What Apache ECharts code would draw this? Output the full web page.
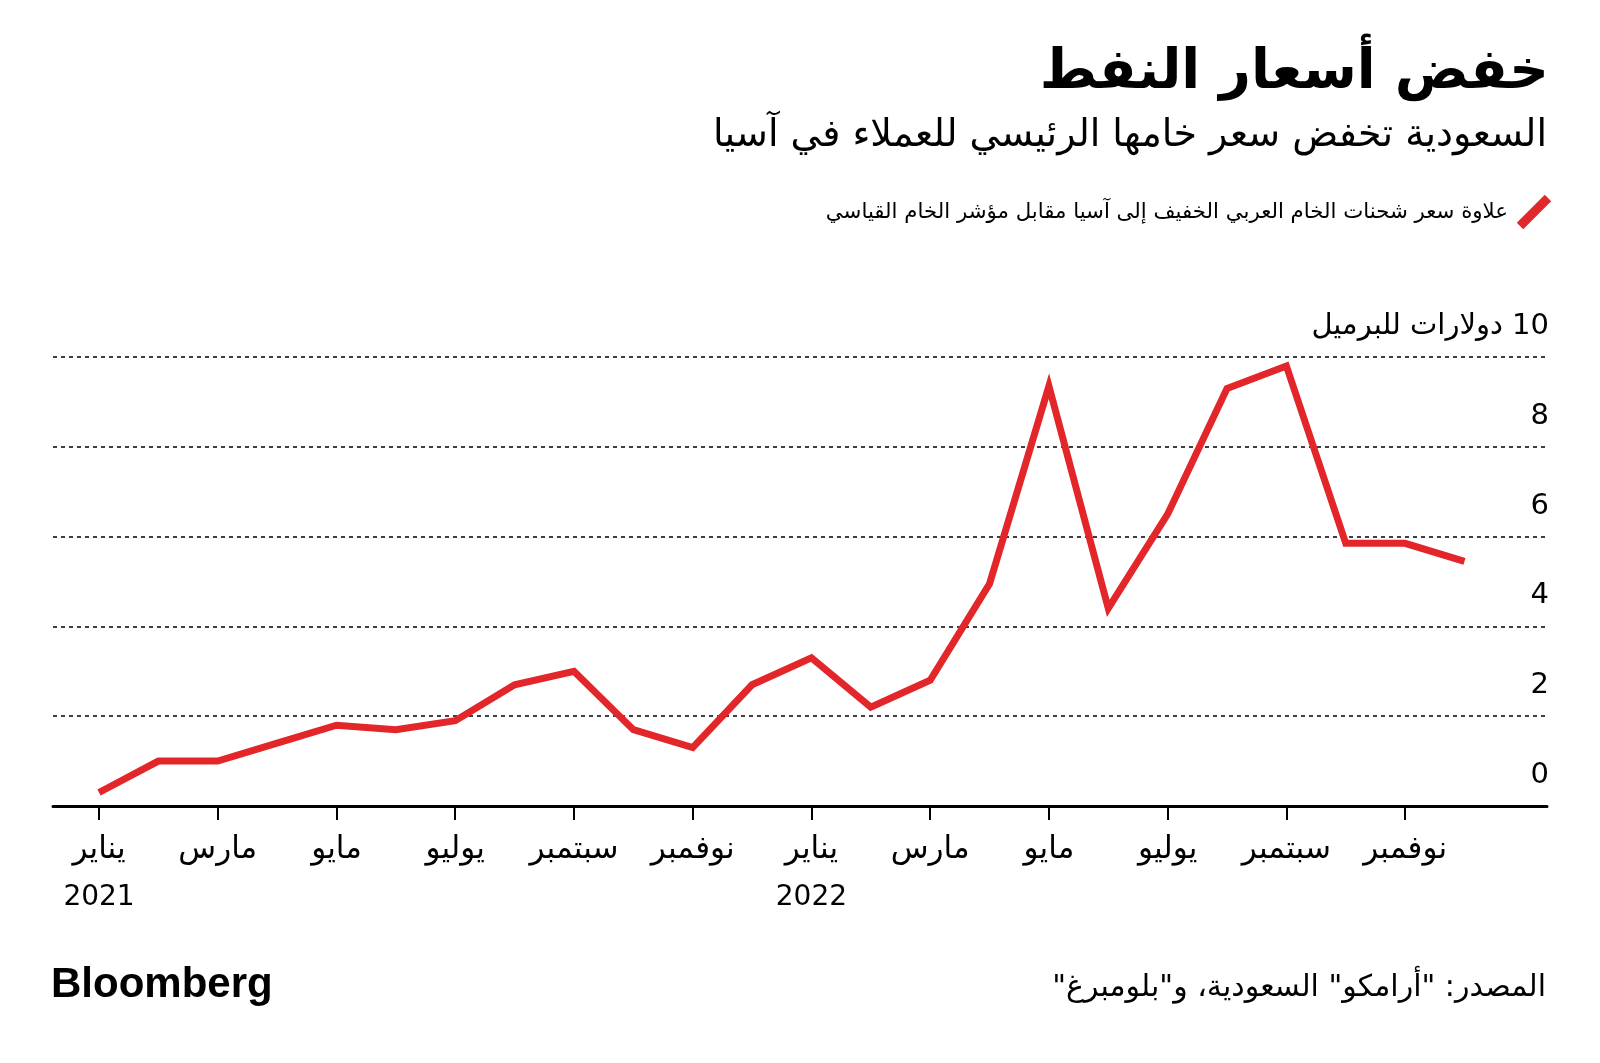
<!DOCTYPE html>
<html>
<head>
<meta charset="utf-8">
<script src="https://cdn.jsdelivr.net/npm/echarts@6/dist/echarts.min.js"></script>
<style>
html,body{margin:0;padding:0;background:#fff;}
#chart{width:1600px;height:1063px;}
</style>
</head>
<body>
<div id="chart" dir="rtl"></div>
<script>
const titleText = 'خفض أسعار النفط';
const subtitleText = 'السعودية تخفض سعر خامها الرئيسي للعملاء في آسيا';
const legendText = 'علاوة سعر شحنات الخام العربي الخفيف إلى آسيا مقابل مؤشر الخام القياسي';
const unitLabel = '10 دولارات للبرميل';
const sourceText = 'المصدر: "أرامكو" السعودية، و"بلومبرغ"';
const brandText = 'Bloomberg';

// months Jan 2021 .. Dec 2022 (index 0..23)
const monthNames = ['يناير','فبراير','مارس','أبريل','مايو','يونيو','يوليو','أغسطس','سبتمبر','أكتوبر','نوفمبر','ديسمبر'];
const years = ['2021','2022'];
const premium = [0.3, 1.0, 1.0, 1.4, 1.8, 1.7, 1.9, 2.7, 3.0, 1.7, 1.3, 2.7,
                 3.3, 2.2, 2.8, 4.95, 9.35, 4.4, 6.5, 9.3, 9.8, 5.85, 5.85, 5.45];
const tickIdx = [0, 2, 4, 6, 8, 10, 12, 14, 16, 18, 20, 22];

const FONT = '"DejaVu Sans", "Noto Sans", sans-serif';
const RED = '#e3262a';

const chart = echarts.init(document.getElementById('chart'), null, {renderer: 'canvas'});
chart.setOption({
  backgroundColor: '#ffffff',
  animation: false,
  grid: {left: 53, right: 53, top: 357, bottom: 257},
  xAxis: {
    type: 'value',
    min: -0.775,
    max: 24.39,
    axisLine: {show: true, onZero: false, lineStyle: {color: '#000', width: 3}},
    axisTick: {show: true, customValues: tickIdx, length: 14, lineStyle: {color: '#000', width: 2}},
    splitLine: {show: false},
    axisLabel: {
      customValues: tickIdx,
      margin: 20,
      fontFamily: FONT,
      color: '#000',
      formatter: function (v) {
        const i = Math.round(v);
        const m = monthNames[i % 12];
        if (i % 12 === 0) return '{m|' + m + '}\n{y|' + years[Math.floor(i / 12)] + '}';
        return '{m|' + m + '}';
      },
      rich: {
        m: {fontFamily: FONT, fontSize: 31, lineHeight: 48, color: '#000'},
        y: {fontFamily: FONT, fontSize: 28, lineHeight: 48, color: '#000'}
      }
    }
  },
  yAxis: {
    type: 'value',
    position: 'right',
    min: 0, max: 10, interval: 2,
    axisLine: {show: false},
    axisTick: {show: false},
    splitLine: {show: true, lineStyle: {color: '#000', width: 1.5, type: [4, 4]}},
    axisLabel: {
      inside: true,
      margin: -2,
      align: 'right',
      verticalAlign: 'bottom',
      padding: [0, 0, 16, 0],
      fontFamily: FONT,
      fontSize: 29,
      color: '#000',
      formatter: function (v) { return v === 10 ? unitLabel : String(v); }
    }
  },
  series: [{
    type: 'line',
    data: premium.map((v, i) => [i, v]),
    showSymbol: false,
    lineStyle: {color: RED, width: 7, join: 'miter'},
    z: 5
  }],
  graphic: [
    {type: 'text', right: 51, top: 46, style: {text: titleText, font: 'bold 55px ' + FONT, fill: '#000', textAlign: 'right'}},
    {type: 'text', right: 53, top: 117, style: {text: subtitleText, font: '38px ' + FONT, fill: '#000', textAlign: 'right'}},
    {type: 'line', shape: {x1: 1520, y1: 226, x2: 1548, y2: 198}, style: {stroke: RED, lineWidth: 9}},
    {type: 'text', right: 92, top: 202, style: {text: legendText, font: '21.3px ' + FONT, fill: '#000', textAlign: 'right'}},
    {type: 'text', left: 51, top: 964, style: {text: brandText, font: '900 42px "Liberation Sans", Arial, sans-serif', fill: '#000'}},
    {type: 'text', right: 54, top: 973, style: {text: sourceText, font: '30px ' + FONT, fill: '#000', textAlign: 'right'}}
  ]
});
</script>
</body>
</html>
